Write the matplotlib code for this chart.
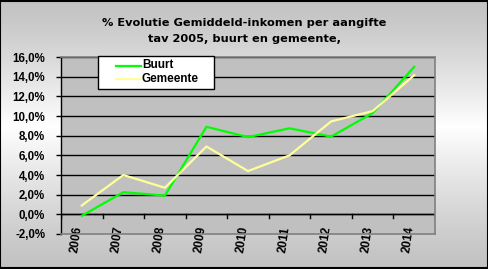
import numpy as np
import matplotlib
matplotlib.use("Agg")
import matplotlib.pyplot as plt
import matplotlib.transforms as mtrans
from matplotlib.patches import Rectangle
from matplotlib.lines import Line2D

years = ["2006", "2007", "2008", "2009", "2010", "2011", "2012", "2013", "2014"]
buurt = [-0.15, 2.25, 1.9, 8.9, 7.85, 8.75, 7.9, 10.3, 15.0]
gemeente = [0.9, 4.0, 2.7, 6.9, 4.4, 6.0, 9.45, 10.5, 14.15]
yticks = [-2, 0, 2, 4, 6, 8, 10, 12, 14, 16]
series_names = ["Buurt", "Gemeente"]
series_colors = ["#00ff00", "#ffff99"]
title = "% Evolutie Gemiddeld-inkomen per aangifte\ntav 2005, buurt en gemeente,"

W, H = 489, 269
fig = plt.figure(figsize=(W / 100, H / 100), dpi=100)

# background vertical gradient (gray -> white -> gray)
bg = fig.add_axes([0, 0, 1, 1], zorder=-10)
t = np.linspace(0, 1, 300)
peak = 0.47
g = np.where(t < peak, t / peak, (1 - t) / (1 - peak))
vals = 0.76 + 0.24 * np.clip(g, 0, 1) ** 1.2
img = np.repeat(vals[:, None], 2, axis=1)
bg.imshow(np.dstack([img, img, img]), aspect="auto", extent=[0, 1, 0, 1], origin="upper")
bg.set_xlim(0, 1)
bg.set_ylim(0, 1)
bg.axis("off")
bg.add_patch(Rectangle((0.001, 0.002), 0.997, 0.995, fill=False, edgecolor="black",
                       linewidth=1.5, transform=bg.transAxes))

ax = fig.add_axes([61 / W, 1 - 234 / H, (435 - 61) / W, (234 - 57) / H])
ax.set_facecolor("#c0c0c0")
x = np.arange(len(years))
ax.set_xlim(-0.5, len(years) - 0.5)
ax.set_ylim(-2, 16)

for yv in yticks[1:]:
    ax.axhline(yv, color="black", linewidth=1.0, zorder=1)

lines = []
for vals_s, name, col in zip([buurt, gemeente], series_names, series_colors):
    ln, = ax.plot(x, vals_s, color=col, linewidth=1.6, label=name, zorder=3)
    lines.append(ln)

# x-axis line at 0 with tick marks
ax.axhline(0, color="black", linewidth=1.0, zorder=2)
for b in np.arange(-0.5, len(years), 1.0):
    ax.plot([b, b], [0, -0.4], color="black", linewidth=1.0, zorder=2)

for s in ["top", "right", "bottom"]:
    ax.spines[s].set_color("#808080")
    ax.spines[s].set_linewidth(1.2)
ax.spines["left"].set_color("black")
ax.spines["left"].set_linewidth(1.0)

ax.set_yticks(yticks)
ax.set_yticklabels([f"{v:.1f}%".replace(".", ",") for v in yticks],
                   fontsize=8.3, fontweight="bold", family="Liberation Sans")
ax.tick_params(axis="y", length=3.5, width=1, pad=8, color="black")

ax.set_xticks(x)
ax.set_xticklabels(years, rotation=82, fontsize=8.6, fontweight="bold",
                   family="Liberation Sans", ha="center", va="top",
                   rotation_mode="default")
ax.tick_params(axis="x", length=0, pad=-6)
off = mtrans.ScaledTranslation(-5.5 / 100, 0, fig.dpi_scale_trans)
for lbl in ax.get_xticklabels():
    lbl.set_transform(lbl.get_transform() + off)

# legend box (drawn in figure pixel coordinates)
def fx(px):
    return px / W

def fy(py):
    return 1 - py / H

fig.add_artist(Rectangle((fx(98), fy(89)), fx(214) - fx(98), fy(56) - fy(89),
                         facecolor="white", edgecolor="black", linewidth=1.0,
                         transform=fig.transFigure, zorder=5))
for i, (name, col) in enumerate(zip(series_names, series_colors)):
    yy = fy(65.5 + i * 13)
    fig.add_artist(Line2D([fx(116), fx(141)], [yy, yy], color=col, linewidth=1.6,
                          transform=fig.transFigure, zorder=6))
    fig.text(fx(142), yy, name, ha="left", va="center", fontsize=8.5,
             fontweight="bold", family="Liberation Sans", zorder=6)

fig.text(0.5, 1 - 31 / H, title, ha="center", va="center", fontsize=8.2, fontweight="bold",
         family="DejaVu Sans", linespacing=1.75)

fig.savefig("out.png", dpi=100)
